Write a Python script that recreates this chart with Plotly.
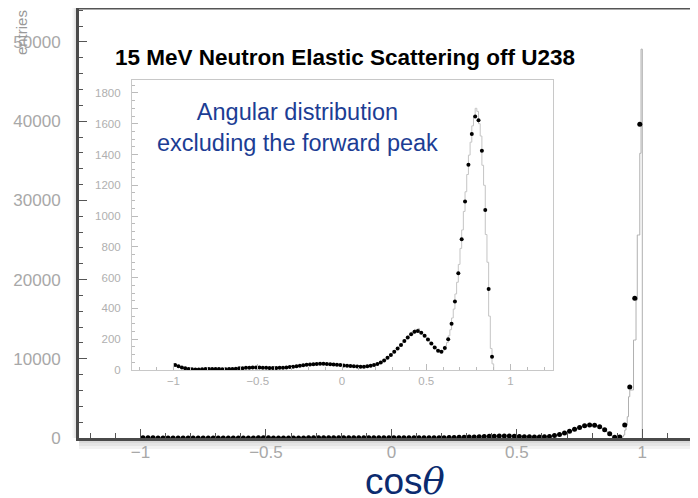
import numpy as np
import plotly.graph_objects as go

# bin centres of the 0.02-wide points
cos_pts = np.round(np.arange(-0.99, 1.0, 0.02), 2)

# black points, -0.99 ... 0.99
pts_val = [33, 25, 17, 11, 7, 5, 4, 4, 5, 6,
           7, 7, 7, 6, 5, 5, 6, 7, 9, 11,
           12, 14, 15, 16, 16, 16, 15, 14, 13, 13,
           13, 14, 15, 17, 19, 22, 25, 28, 31, 34,
           36, 38, 39, 40, 40, 39, 38, 36, 34, 32,
           30, 28, 26, 24, 23, 22, 22, 24, 27, 32,
           39, 49, 62, 80, 98, 118, 140, 163, 188, 212,
           233, 248, 253, 242, 222, 198, 172, 147, 125, 118,
           143, 200, 300, 445, 628, 850, 1094, 1333, 1533, 1646,
           1622, 1425, 1040, 526, 86, 120, 1640, 6450, 17650, 39600]

# histogram, 0.01 bins between 0.20 and 0.90
fine_val = [36, 42, 45, 53, 57, 67, 74, 86, 92, 104,
            112, 124, 133, 147, 156, 170, 182, 196, 204, 222,
            226, 246, 238, 264, 244, 270, 248, 240, 230, 216,
            206, 192, 180, 166, 154, 140, 130, 120, 115, 121,
            128, 156, 178, 222, 262, 338, 396, 494, 570, 686,
            790, 910, 1030, 1158, 1270, 1396, 1480, 1586, 1640, 1700,
            1680, 1600, 1520, 1330, 1200, 880, 700, 350, 140, 40]
gap_val = [25, 60]
# forward peak, 0.005 bins between 0.92 and 1.00
peak_val = [150, 380, 1000, 1640, 2690, 5210, 6060, 6060,
            6060, 12370, 12370, 17420, 25630, 25630, 35950, 49100]

edges_coarse = np.round(np.arange(-1.0, 0.2001, 0.02), 3)
edges_fine = np.round(np.arange(0.21, 0.9001, 0.01), 3)
edges_gap = [0.91, 0.92]
edges_peak = np.round(np.arange(0.925, 1.0001, 0.005), 3)

inset_edges = list(edges_coarse) + list(edges_fine)
inset_counts = pts_val[:60] + fine_val
main_edges = inset_edges + edges_gap + list(edges_peak)
main_counts = inset_counts + gap_val + peak_val


def steps(edges, counts):
    xs = [edges[0]] + list(edges[:-1]) + [edges[-1]]
    ys = [0] + list(counts) + [0]
    return xs, ys


hx, hy = steps(main_edges, main_counts)
ix, iy = steps(inset_edges, inset_counts)

fig = go.Figure()
fig.add_trace(go.Scatter(x=hx, y=hy, mode="lines", line_shape="hv",
                         line=dict(color="#b0b0b0", width=1), hoverinfo="skip"))
fig.add_trace(go.Scatter(x=cos_pts, y=pts_val, mode="markers", cliponaxis=False,
                         marker=dict(color="black", size=5)))
fig.add_trace(go.Scatter(x=ix, y=iy, mode="lines", line_shape="hv",
                         line=dict(color="#c4c4c4", width=1), hoverinfo="skip",
                         xaxis="x2", yaxis="y2"))
fig.add_trace(go.Scatter(x=cos_pts[:95], y=pts_val[:95], mode="markers",
                         marker=dict(color="black", size=4), xaxis="x2", yaxis="y2"))

font = "Arial, Liberation Sans, sans-serif"
# page body adds an 8px margin, so the figure is 8px smaller than the window
fig.update_layout(
    width=690, height=490, showlegend=False,
    margin=dict(l=71, r=0, t=0, b=60),
    paper_bgcolor="white", plot_bgcolor="white",
    font=dict(family=font),
    xaxis=dict(range=[-1.245, 1.222], showgrid=False, zeroline=False, automargin=False,
               showline=True, linecolor="#4a4a4a", linewidth=3,
               tickvals=[-1, -0.5, 0, 0.5, 1], ticks="inside", ticklen=9,
               tickcolor="#555", tickfont=dict(size=17, color="#a8a8a8"),
               ticklabelstandoff=-3,
               minor=dict(dtick=0.1, tick0=0, ticks="inside", ticklen=5, tickcolor="#555")),
    yaxis=dict(range=[0, 54290], showgrid=False, zeroline=False, automargin=False,
               showline=True, linecolor="#4a4a4a", linewidth=3, tickformat="d",
               dtick=10000, ticks="inside", ticklen=8, tickcolor="#555",
               tickfont=dict(size=17, color="#a8a8a8"), ticklabelstandoff=12,
               minor=dict(dtick=2000, ticks="inside", ticklen=4, tickcolor="#555")),
    xaxis2=dict(domain=[0.0856, 0.7658], anchor="y2", range=[-1.246, 1.252],
                showgrid=False, zeroline=False, showline=True, mirror=True, automargin=False,
                linecolor="#c8c8c8", linewidth=1, dtick=0.5, tick0=0,
                ticks="inside", ticklen=6, tickcolor="#bbb",
                tickfont=dict(size=11.5, color="#b0b0b0"),
                minor=dict(dtick=0.1, ticks="inside", ticklen=3, tickcolor="#bbb")),
    yaxis2=dict(domain=[0.1581, 0.8326], anchor="x2", range=[0, 1884],
                showgrid=False, zeroline=False, showline=True, mirror=True, automargin=False,
                linecolor="#c8c8c8", linewidth=1, dtick=200,
                ticks="inside", ticklen=6, tickcolor="#bbb",
                tickfont=dict(size=11.5, color="#b0b0b0"), ticklabelstandoff=8,
                minor=dict(dtick=50, ticks="inside", ticklen=3, tickcolor="#bbb")),
)

# frame top line and soft shadow
fig.add_shape(type="line", xref="paper", yref="paper", x0=0, x1=1, y0=1, y1=1,
              line=dict(color="#555", width=3))
for h in (3, 6, 9):
    fig.add_shape(type="rect", xref="paper", yref="paper", x0=0, x1=1,
                  ysizemode="pixel", yanchor=0, y0=-2, y1=-2 - h,
                  fillcolor="rgba(0,0,0,0.05)", line_width=0, layer="below")
    fig.add_shape(type="rect", xref="paper", yref="paper", y0=0, y1=1,
                  xsizemode="pixel", xanchor=0, x0=-2, x1=-2 - h / 2,
                  fillcolor="rgba(0,0,0,0.04)", line_width=0, layer="below")

ann = dict(xref="paper", yref="paper", showarrow=False, xanchor="center", yanchor="middle")
fig.add_annotation(text="<b>15 MeV Neutron Elastic Scattering off U238</b>",
                   x=0.4297, y=0.886, font=dict(size=22.5, color="black", family=font), **ann)
fig.add_annotation(text="Angular distribution<br>excluding the forward peak",
                   x=0.353, y=0.721, font=dict(size=23.5, color="#1c3d94", family=font), **ann)
fig.add_annotation(text="entries", textangle=-90, x=-0.0937, y=0.944,
                   font=dict(size=15, color="#999", family=font), **ann)
fig.add_annotation(text="cos<span style='font-family:DejaVu Serif, Liberation Serif, serif'><i>θ</i></span>",
                   x=0.5266, y=-0.1, font=dict(size=37, color="#0b2b6f", family=font), **ann)

fig.write_html("out.html")
